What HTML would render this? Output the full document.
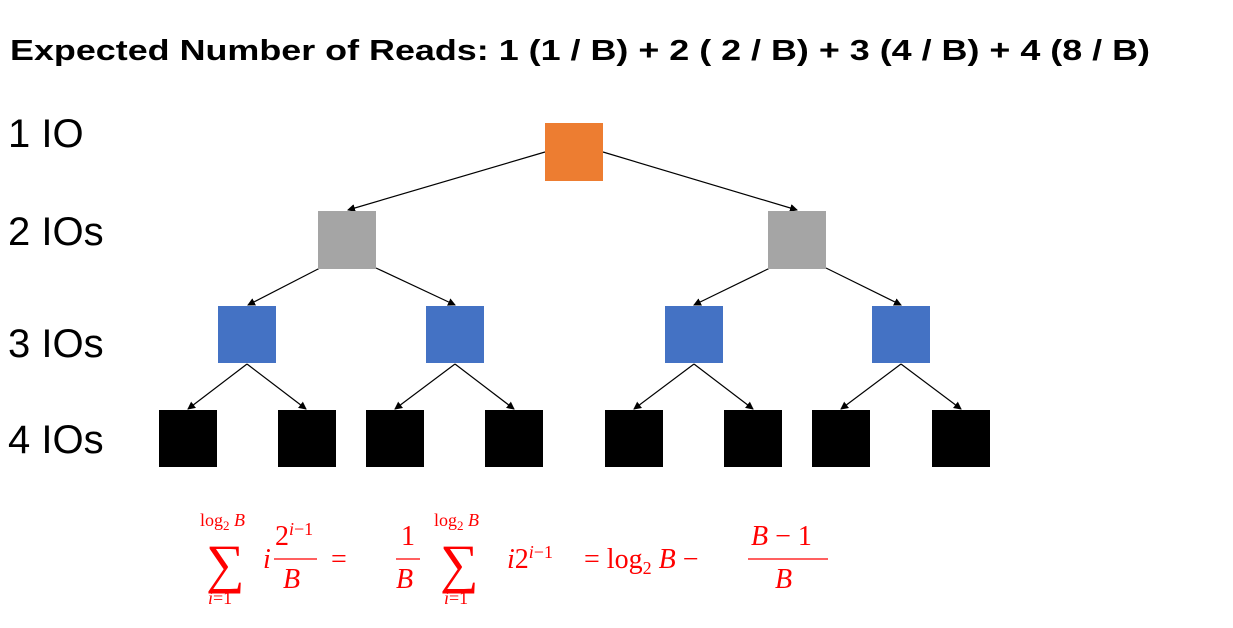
<!DOCTYPE html>
<html><head><meta charset="utf-8"><style>
html,body{margin:0;padding:0;background:#fff;}
svg{display:block}
</style></head><body>
<svg width="1233" height="628" viewBox="0 0 1233 628" xmlns="http://www.w3.org/2000/svg">
<defs><marker id="a" markerWidth="8" markerHeight="8" refX="7" refY="4" orient="auto" markerUnits="userSpaceOnUse"><path d="M0,0 L8,4 L0,8 z" fill="#000"/></marker></defs>
<text x="10" y="60" font-family="Liberation Sans, sans-serif" font-weight="bold" font-size="29" textLength="1140" lengthAdjust="spacingAndGlyphs">Expected Number of Reads: 1 (1 / B) + 2 ( 2 / B) + 3 (4 / B) + 4 (8 / B)</text>
<g font-family="Liberation Sans, sans-serif" font-size="40" fill="#000">
<text x="8" y="147">1 IO</text>
<text x="8" y="245">2 IOs</text>
<text x="8" y="357">3 IOs</text>
<text x="8" y="453">4 IOs</text>
</g>
<g stroke="#000" stroke-width="1.2" marker-end="url(#a)">
<line x1="545" y1="152" x2="348" y2="210"/>
<line x1="603" y1="152" x2="797" y2="210"/>
<line x1="320" y1="268" x2="248" y2="305"/>
<line x1="376" y1="268" x2="455" y2="305"/>
<line x1="770" y1="268" x2="694" y2="305"/>
<line x1="826" y1="268" x2="901" y2="305"/>
<line x1="247" y1="364" x2="188" y2="409"/>
<line x1="247" y1="364" x2="306" y2="409"/>
<line x1="455" y1="364" x2="395" y2="409"/>
<line x1="455" y1="364" x2="514" y2="409"/>
<line x1="694" y1="364" x2="634" y2="409"/>
<line x1="694" y1="364" x2="753" y2="409"/>
<line x1="901" y1="364" x2="841" y2="409"/>
<line x1="901" y1="364" x2="961" y2="409"/>
</g>
<rect x="545" y="123" width="58" height="58" fill="#ED7D31"/>
<rect x="318" y="211" width="58" height="58" fill="#A5A5A5"/>
<rect x="768" y="211" width="58" height="58" fill="#A5A5A5"/>
<g fill="#4472C4">
<rect x="218" y="306" width="58" height="57"/><rect x="426" y="306" width="58" height="57"/>
<rect x="665" y="306" width="58" height="57"/><rect x="872" y="306" width="58" height="57"/>
</g>
<g fill="#000">
<rect x="159" y="410" width="58" height="57"/><rect x="278" y="410" width="58" height="57"/>
<rect x="366" y="410" width="58" height="57"/><rect x="485" y="410" width="58" height="57"/>
<rect x="605" y="410" width="58" height="57"/><rect x="724" y="410" width="58" height="57"/>
<rect x="812" y="410" width="58" height="57"/><rect x="932" y="410" width="58" height="57"/>
</g>
<g fill="#f00" font-family="Liberation Serif, serif">
<text x="200" y="526" font-size="18">log<tspan font-size="13" dy="4">2</tspan><tspan dy="-4" font-style="italic"> B</tspan></text>
<text x="206" y="582" font-size="54">∑</text>
<text x="208" y="604" font-size="18" font-style="italic">i<tspan font-style="normal">=1</tspan></text>
<text x="263" y="568" font-size="28" font-style="italic">i</text>
<text x="275" y="545" font-size="28">2<tspan font-size="18" dy="-10" font-style="italic">i</tspan><tspan font-size="18">−1</tspan></text>
<line x1="274" y1="559" x2="317" y2="559" stroke="#f00" stroke-width="1.3"/>
<text x="283" y="588" font-size="28" font-style="italic">B</text>
<text x="331" y="568" font-size="28">=</text>
<text x="401" y="545" font-size="28">1</text>
<line x1="396" y1="559" x2="420" y2="559" stroke="#f00" stroke-width="1.3"/>
<text x="396" y="588" font-size="28" font-style="italic">B</text>
<text x="434" y="526" font-size="18">log<tspan font-size="13" dy="4">2</tspan><tspan dy="-4" font-style="italic"> B</tspan></text>
<text x="440" y="582" font-size="54">∑</text>
<text x="444" y="604" font-size="18" font-style="italic">i<tspan font-style="normal">=1</tspan></text>
<text x="507" y="568" font-size="28" font-style="italic">i<tspan font-style="normal">2</tspan><tspan font-size="18" dy="-10">i</tspan><tspan font-size="18" font-style="normal">−1</tspan></text>
<text x="584" y="568" font-size="28">= log<tspan font-size="18" dy="6">2</tspan><tspan dy="-6" font-style="italic"> B</tspan> −</text>
<text x="751" y="545" font-size="28"><tspan font-style="italic">B</tspan> − 1</text>
<line x1="748" y1="559" x2="828" y2="559" stroke="#f00" stroke-width="1.3"/>
<text x="775" y="588" font-size="28" font-style="italic">B</text>
</g>
</svg>
</body></html>
